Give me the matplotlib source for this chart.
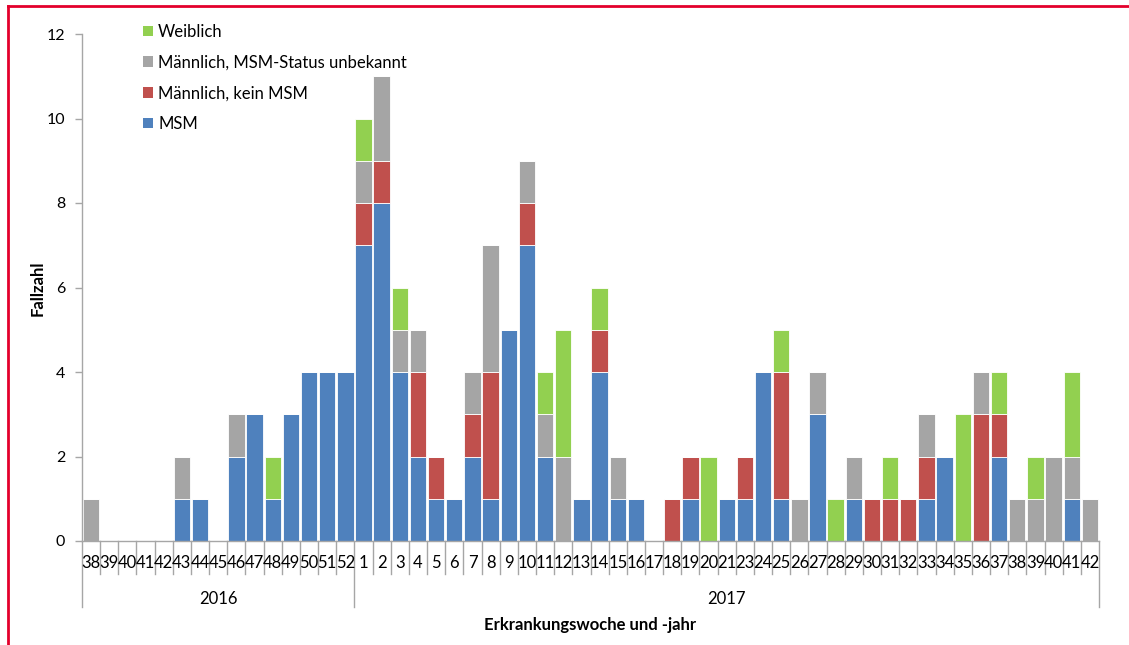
import matplotlib
matplotlib.use("Agg")
import matplotlib.pyplot as plt
import matplotlib.transforms as mtransforms
from matplotlib.patches import Patch
from matplotlib.lines import Line2D
import numpy as np

plt.rcParams['font.family'] = ['Lato', 'DejaVu Sans']

# ---- data ----
weeks_2016 = ["38", "39", "40", "41", "42", "43", "44", "45", "46", "47", "48", "49", "50", "51", "52"]
weeks_2017 = ["1", "2", "3", "4", "5", "6", "7", "8", "9", "10", "11", "12", "13", "14", "15", "16", "17",
              "18", "19", "20", "21", "23", "24", "25", "26", "27", "28", "29", "30", "31", "32", "33",
              "34", "35", "36", "37", "38", "39", "40", "41", "42"]
years = ["2016", "2017"]

msm = [0, 0, 0, 0, 0, 1, 1, 0, 2, 3, 1, 3, 4, 4, 4,
       7, 8, 4, 2, 1, 1, 2, 1, 5, 7, 2, 0, 1, 4, 1, 1, 0,
       0, 1, 0, 1, 1, 4, 1, 0, 3, 0, 1, 0, 0, 0, 1,
       2, 0, 0, 2, 0, 0, 0, 1, 0]
kein_msm = [0, 0, 0, 0, 0, 0, 0, 0, 0, 0, 0, 0, 0, 0, 0,
            1, 1, 0, 2, 1, 0, 1, 3, 0, 1, 0, 0, 0, 1, 0, 0, 0,
            1, 1, 0, 0, 1, 0, 3, 0, 0, 0, 0, 1, 1, 1, 1,
            0, 0, 3, 1, 0, 0, 0, 0, 0]
unbekannt = [1, 0, 0, 0, 0, 1, 0, 0, 1, 0, 0, 0, 0, 0, 0,
             1, 2, 1, 1, 0, 0, 1, 3, 0, 1, 1, 2, 0, 0, 1, 0, 0,
             0, 0, 0, 0, 0, 0, 0, 1, 1, 0, 1, 0, 0, 0, 1,
             0, 0, 1, 0, 1, 1, 2, 1, 1]
weiblich = [0, 0, 0, 0, 0, 0, 0, 0, 0, 0, 1, 0, 0, 0, 0,
            1, 0, 1, 0, 0, 0, 0, 0, 0, 0, 1, 3, 0, 1, 0, 0, 0,
            0, 0, 2, 0, 0, 0, 1, 0, 0, 1, 0, 0, 1, 0, 0,
            0, 3, 0, 1, 0, 1, 0, 2, 0]

series_labels = ["MSM", "Männlich, kein MSM", "Männlich, MSM-Status unbekannt", "Weiblich"]
colors = ["#4F81BD", "#C0504D", "#A5A5A5", "#92D050"]

# ---- figure ----
W, H = 1129, 645
fig = plt.figure(figsize=(W / 100, H / 100), dpi=100)
ax_l, ax_r, ax_b, ax_t = 82, 1099, 541, 34
ax = fig.add_axes([ax_l / W, 1 - ax_b / H, (ax_r - ax_l) / W, (ax_b - ax_t) / H])

labels = weeks_2016 + weeks_2017
x = np.arange(len(labels))
series = [msm, kein_msm, unbekannt, weiblich]
bottom = np.zeros(len(labels))
for vals, col, lab in zip(series, colors, series_labels):
    v = np.array(vals, dtype=float)
    ax.bar(x, v, bottom=bottom, width=0.9, color=col, edgecolor="white",
           linewidth=0.6, label=lab, zorder=2)
    bottom += v

ax.set_xlim(-0.5, len(labels) - 0.5)
ax.set_ylim(0, 12)
ax.set_yticks(range(0, 13, 2))
axis_gray = "#A6A6A6"
for s in ["top", "right"]:
    ax.spines[s].set_visible(False)
for s in ["left", "bottom"]:
    ax.spines[s].set_color(axis_gray)
    ax.spines[s].set_linewidth(1.0)
ax.tick_params(axis="y", length=5, width=1, color=axis_gray, labelsize=11.5, pad=7,
               labelcolor="black")
ax.set_xticks([])

# category labels and separators
ax_h = ax_b - ax_t
trans = mtransforms.blended_transform_factory(ax.transData, ax.transAxes)
for i, lab in enumerate(labels):
    ax.text(i, -22 / ax_h, lab, transform=trans, ha="center", va="center",
            fontsize=12, color="black")
n16 = len(weeks_2016)
for i in range(len(labels) + 1):
    xb = i - 0.5
    if i in (0, n16, len(labels)):
        y_end = -66 / ax_h
    else:
        y_end = -33 / ax_h
    ax.add_line(Line2D([xb, xb], [0, y_end], transform=trans, color=axis_gray,
                       linewidth=1.0, clip_on=False))

# year labels
ax.text((n16 - 1) / 2, -58 / ax_h, years[0], transform=trans, ha="center", va="center",
        fontsize=12)
ax.text(n16 + (len(labels) - n16 - 1) / 2, -58 / ax_h, years[1], transform=trans,
        ha="center", va="center", fontsize=12)

# axis titles
fig.text((ax_l + ax_r) / 2 / W, 1 - 625 / H, "Erkrankungswoche und -jahr",
         ha="center", va="center", fontsize=12, fontweight="bold")
fig.text(38 / W, 1 - 288 / H, "Fallzahl", rotation=90, ha="center", va="center",
         fontsize=12, fontweight="bold")

# legend (top to bottom: Weiblich ... MSM)
handles = [Patch(facecolor=c, edgecolor="none") for c in colors][::-1]
leg = fig.legend(handles, series_labels[::-1], loc="upper left",
                 bbox_to_anchor=(143 / W, 1 - 24 / H), bbox_transform=fig.transFigure,
                 frameon=False, fontsize=12, handlelength=0.6, handleheight=0.6,
                 handletextpad=0.3, labelspacing=0.88, borderpad=0, borderaxespad=0)

# red frame lines
fig.add_artist(Line2D([8 / W, 1], [1 - 6 / H, 1 - 6 / H], transform=fig.transFigure,
                      color="#E3002C", linewidth=2))
fig.add_artist(Line2D([8 / W, 8 / W], [0, 1 - 6 / H], transform=fig.transFigure,
                      color="#E3002C", linewidth=2))

fig.savefig("out.png", dpi=100)
